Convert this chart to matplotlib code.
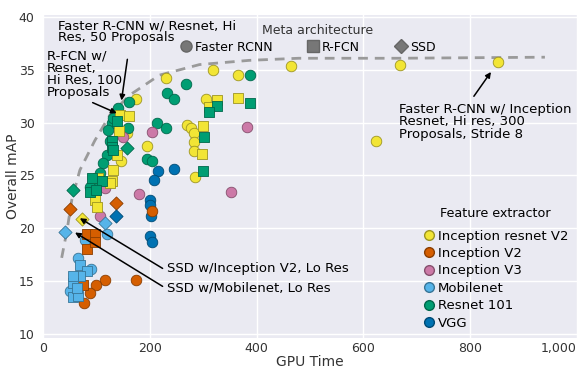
import matplotlib
matplotlib.use("Agg")
import matplotlib.pyplot as plt
import matplotlib.colors as mcolors
from matplotlib.lines import Line2D
from matplotlib.ticker import FuncFormatter

# ---------------- data ----------------
extractors = ["Inception resnet V2", "Inception V2", "Inception V3",
              "Mobilenet", "Resnet 101", "VGG"]
colors = {"Inception resnet V2": "#F2E535", "Inception V2": "#D55E00",
          "Inception V3": "#CC79A7", "Mobilenet": "#56B4E9",
          "Resnet 101": "#009E73", "VGG": "#0072B2"}
metas = ["Faster RCNN", "R-FCN", "SSD"]

# Faster RCNN (circles)
frcnn_irv2_x = [852, 669, 464, 319, 366, 231, 175, 306, 270, 278, 283, 282, 283, 194, 285, 623, 157, 147]
frcnn_irv2_y = [35.7, 35.5, 35.4, 35.0, 34.5, 34.2, 32.2, 32.2, 29.8, 29.5, 29.0, 28.2, 27.3, 27.8, 24.9, 28.3, 29.0, 26.4]
frcnn_res_x = [388, 267, 233, 246, 213, 231, 194, 205, 162, 140, 129, 121, 125, 159, 119, 112, 106, 101, 88, 131]
frcnn_res_y = [34.5, 33.7, 32.8, 32.2, 30.0, 29.5, 26.6, 26.4, 32.0, 31.4, 30.0, 29.3, 28.3, 29.5, 26.9, 26.2, 25.2, 24.3, 23.9, 30.4]
frcnn_iv3_x = [205, 382, 179, 352, 149, 116, 106]
frcnn_iv3_y = [29.1, 29.6, 23.2, 23.4, 28.6, 23.8, 21.2]
frcnn_vgg_x = [216, 246, 207, 200, 201, 203, 201, 205]
frcnn_vgg_y = [25.4, 25.6, 24.6, 22.7, 22.2, 21.2, 19.3, 18.7]
frcnn_iv2_x = [205, 175, 117, 99, 88, 77]
frcnn_iv2_y = [21.6, 15.1, 15.1, 14.6, 13.9, 12.9]
frcnn_mob_x = [65, 89, 119, 78, 50]
frcnn_mob_y = [17.2, 16.1, 19.5, 18.9, 14.1]

# R-FCN (squares)
rfcn_irv2_x = [326, 311, 365, 300, 298, 145, 162, 142, 138, 131, 129, 125, 97, 101, 103]
rfcn_irv2_y = [32.1, 31.5, 32.3, 29.7, 27.0, 30.7, 30.6, 29.2, 26.9, 25.5, 24.5, 24.3, 22.7, 22.0, 24.8]
rfcn_res_x = [326, 311, 388, 302, 300, 129, 129, 131, 91, 88, 110, 138, 99]
rfcn_res_y = [31.6, 31.0, 31.9, 28.6, 25.4, 28.3, 27.7, 27.4, 24.8, 23.4, 24.5, 30.2, 23.6]
rfcn_iv2_x = [82, 82, 97, 97, 75]
rfcn_iv2_y = [18.0, 19.5, 19.5, 18.7, 14.6]
rfcn_mob_x = [69, 82, 69, 56, 56, 65, 63, 56]
rfcn_mob_y = [16.5, 16.0, 15.5, 14.8, 13.5, 13.6, 14.3, 15.5]

# SSD (diamonds)
ssd_mob_x = [41, 117]
ssd_mob_y = [19.6, 20.5]
ssd_iv2_x = [50, 136]
ssd_iv2_y = [21.8, 22.4]
ssd_irv2_x = [73]
ssd_irv2_y = [20.9]
ssd_vgg_x = [136]
ssd_vgg_y = [21.2]
ssd_res_x = [56, 157]
ssd_res_y = [23.6, 27.6]

groups = [
    ("Faster RCNN", "Inception resnet V2", frcnn_irv2_x, frcnn_irv2_y),
    ("Faster RCNN", "Resnet 101", frcnn_res_x, frcnn_res_y),
    ("Faster RCNN", "Inception V3", frcnn_iv3_x, frcnn_iv3_y),
    ("Faster RCNN", "VGG", frcnn_vgg_x, frcnn_vgg_y),
    ("Faster RCNN", "Inception V2", frcnn_iv2_x, frcnn_iv2_y),
    ("Faster RCNN", "Mobilenet", frcnn_mob_x, frcnn_mob_y),
    ("R-FCN", "Inception resnet V2", rfcn_irv2_x, rfcn_irv2_y),
    ("R-FCN", "Resnet 101", rfcn_res_x, rfcn_res_y),
    ("R-FCN", "Inception V2", rfcn_iv2_x, rfcn_iv2_y),
    ("R-FCN", "Mobilenet", rfcn_mob_x, rfcn_mob_y),
    ("SSD", "Mobilenet", ssd_mob_x, ssd_mob_y),
    ("SSD", "Inception V2", ssd_iv2_x, ssd_iv2_y),
    ("SSD", "Inception resnet V2", ssd_irv2_x, ssd_irv2_y),
    ("SSD", "VGG", ssd_vgg_x, ssd_vgg_y),
    ("SSD", "Resnet 101", ssd_res_x, ssd_res_y),
]

# optimality frontier (dashed)
frontier_x = [35, 45, 54, 69, 97, 125, 162, 218, 293, 386, 479, 666, 940]
frontier_y = [17.2, 19.8, 22.7, 25.5, 28.3, 30.7, 32.6, 34.5, 35.5, 35.9, 36.1, 36.1, 36.2]

x_ticks = [0, 200, 400, 600, 800, 1000]
y_ticks = [10, 15, 20, 25, 30, 35, 40]

# ---------------- plot ----------------
plt.rcParams['font.family'] = ['DejaVu Sans']
fig = plt.figure(figsize=(5.81, 3.74), dpi=100)
ax = fig.add_axes([0.074, 0.096, 0.919, 0.864])
ax.set_facecolor("#EAEAF2")
for s in ax.spines.values():
    s.set_visible(False)
ax.grid(True, color="white", lw=1.0)
ax.set_axisbelow(True)

marker_map = {"Faster RCNN": "o", "R-FCN": "s", "SSD": "D"}
size_map = {"Faster RCNN": 58, "R-FCN": 55, "SSD": 45}


def darker(c, f=0.65):
    r, g, b = mcolors.to_rgb(c)
    return (r * f, g * f, b * f)


ax.plot(frontier_x, frontier_y, color="#9a9a9a", lw=2.0, dashes=(3.5, 2.5), zorder=1)

for meta, ext, xs, ys in groups:
    ax.scatter(xs, ys, marker=marker_map[meta], s=size_map[meta],
               color=colors[ext], edgecolors=[darker(colors[ext])],
               linewidths=0.6, zorder=3)

ax.set_xlim(0, 1000)
ax.set_ylim(9.6, 40.2)
ax.set_xticks(x_ticks)
ax.set_yticks(y_ticks)
ax.xaxis.set_major_formatter(FuncFormatter(lambda v, p: f"{int(v):,}"))
ax.tick_params(length=0, labelsize=9, colors="#333333")
ax.tick_params(axis="x", pad=3)
ax.tick_params(axis="y", pad=6)
ax.get_xticklabels()[-1].set_horizontalalignment("right")
ax.set_xlabel("GPU Time", fontsize=10, color="#333333", labelpad=0)
ax.set_ylabel("Overall mAP", fontsize=10, color="#333333", labelpad=-1)

# legends
ax.text(515, 38.77, "Meta architecture", fontsize=9, color="#333333",
        ha="center", va="center")
meta_handles = [Line2D([], [], ls="", marker=marker_map[m], ms=8 if m != "SSD" else 7.5,
                       color="#777777", mec="#666666") for m in metas]
leg1 = ax.legend(meta_handles, metas, ncol=3,
                 loc="center", bbox_to_anchor=(497, 37.16),
                 bbox_transform=ax.transData, frameon=False,
                 fontsize=9, handletextpad=0.3, handlelength=0.8,
                 columnspacing=2.9, borderaxespad=0, borderpad=0)
ax.add_artist(leg1)

ext_handles = [Line2D([], [], ls="", marker="o", ms=7, color=colors[e],
                      mec=darker(colors[e])) for e in extractors]
leg2 = ax.legend(ext_handles, extractors, title="Feature extractor",
                 loc="lower right", bbox_to_anchor=(1.0, 0.0), frameon=False,
                 fontsize=9.5, title_fontsize=9.2, handletextpad=0.2,
                 handlelength=1.0, labelspacing=0.33, borderaxespad=0.25)
leg2._legend_box.sep = 7

# annotations
tk = dict(fontsize=9.5, color="black", linespacing=0.92)
ap = dict(arrowstyle="-|>", color="black", lw=1.1, mutation_scale=8,
          shrinkA=0, shrinkB=0)

ax.text(28, 39.8, "Faster R-CNN w/ Resnet, Hi\nRes, 50 Proposals", ha="left", va="top", **tk)
ax.annotate("", xy=(147, 32.1), xytext=(158, 36.0), arrowprops=ap)

ax.text(7, 36.9, "R-FCN w/\nResnet,\nHi Res, 100\nProposals", ha="left", va="top", **tk)
ax.annotate("", xy=(138, 30.9), xytext=(93, 31.9), arrowprops=ap)

ax.text(233, 16.2, "SSD w/Inception V2, Lo Res", ha="left", va="center", **tk)
ax.annotate("", xy=(69, 20.95), xytext=(224, 16.2), arrowprops=ap)

ax.text(233, 14.3, "SSD w/Mobilenet, Lo Res", ha="left", va="center", **tk)
ax.annotate("", xy=(60, 19.6), xytext=(224, 14.5), arrowprops=ap)

ax.text(666, 31.85, "Faster R-CNN w/ Inception\nResnet, Hi res, 300\nProposals, Stride 8",
        ha="left", va="top", **tk)
ax.annotate("", xy=(839, 34.8), xytext=(807, 32.5), arrowprops=ap)

fig.savefig("out.png", dpi=100)
